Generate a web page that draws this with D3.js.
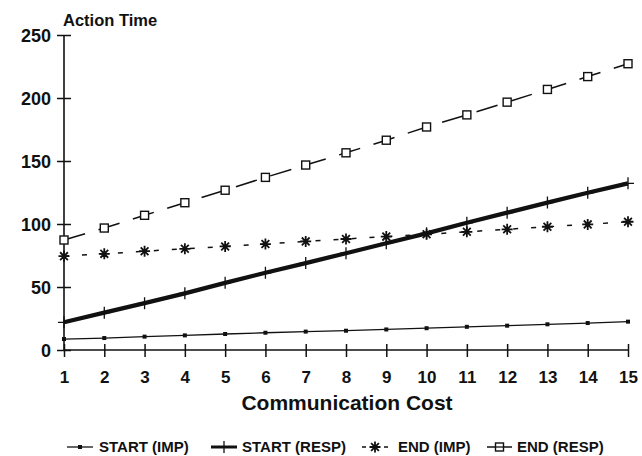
<!DOCTYPE html>
<html>
<head>
<meta charset="utf-8">
<script src="https://cdn.jsdelivr.net/npm/d3@7"></script>
<style>
  body { margin: 0; background: #fff; }
  svg { display: block; }
  text { font-family: "Liberation Sans", Arial, Helvetica, sans-serif; font-weight: bold; fill: #111; }
</style>
</head>
<body>
<div id="chart"></div>
<script>
// chart values
const costs = [1, 2, 3, 4, 5, 6, 7, 8, 9, 10, 11, 12, 13, 14, 15];
const startImp = [8.7, 9.5, 10.6, 11.6, 12.7, 13.7, 14.6, 15.3, 16.3, 17.3, 18.4, 19.3, 20.4, 21.4, 22.5];
const startResp = [22, 29.6, 37.2, 45, 53.3, 61.3, 69, 76.8, 84.7, 92.6, 101, 109, 117, 124.8, 132.3];
const endImp = [74.5, 76.3, 78.4, 80.3, 82.2, 84.1, 86.2, 88.1, 90, 91.8, 93.8, 95.8, 97.8, 99.7, 101.8];
const endResp = [87.3, 96.8, 106.9, 116.9, 126.8, 137, 146.8, 156.5, 166.5, 177, 186.6, 196.7, 206.8, 217, 227.2];
const yTicks = [0, 50, 100, 150, 200, 250];
const seriesNames = ["START (IMP)", "START (RESP)", "END (IMP)", "END (RESP)"];

const width = 642, height = 456;
const ink = "#111";

const series = [
  {name: seriesNames[0], values: startImp, width: 1.3, dash: null, marker: "dot"},
  {name: seriesNames[1], values: startResp, width: 4.3, dash: null, marker: "plus"},
  {name: seriesNames[2], values: endImp, width: 1.5, dash: "5,13", marker: "star"},
  {name: seriesNames[3], values: endResp, width: 1.5, dash: "22,14", marker: "square"}
];

const x = d3.scaleLinear().domain([1, 15]).range([64, 628]);
const y = d3.scaleLinear().domain([0, 250]).range([350, 35]);

const svg = d3.select("#chart").append("svg")
  .attr("width", width)
  .attr("height", height);

// axes
const yAxis = svg.append("g")
  .attr("transform", `translate(${x(1)},0)`)
  .call(d3.axisLeft(y).tickValues(yTicks).tickSize(7).tickPadding(6));
yAxis.select(".domain").attr("stroke", ink).attr("stroke-width", 1.6).attr("d", `M0,${y(250)}V${y(0)}`);
yAxis.selectAll(".tick line").attr("x1", -7).attr("x2", 7).attr("stroke", ink).attr("stroke-width", 1.5);
yAxis.selectAll(".tick text").style("font-size", "18px").attr("x", -13).attr("dy", "0.36em");

const xAxis = svg.append("g")
  .attr("transform", `translate(0,${y(0)})`)
  .call(d3.axisBottom(x).tickValues(costs).tickSize(6).tickPadding(10));
xAxis.select(".domain").attr("stroke", ink).attr("stroke-width", 1.6).attr("d", `M${x(1)},0H${x(15)}`);
xAxis.selectAll(".tick line").attr("y1", -6).attr("y2", 7).attr("stroke", ink).attr("stroke-width", 1.5);
xAxis.selectAll(".tick text").style("font-size", "17px").attr("y", 27).attr("dy", "0.36em");

// titles
svg.append("text").attr("x", 63).attr("y", 26).style("font-size", "16.5px").text("Action Time");
svg.append("text").attr("x", 347).attr("y", 410).attr("text-anchor", "middle")
  .style("font-size", "21px").text("Communication Cost");

// marker drawing
function drawMarker(g, type, cx, cy) {
  if (type === "dot") {
    g.append("rect").attr("x", cx - 2).attr("y", cy - 2).attr("width", 4).attr("height", 4).attr("fill", ink);
  } else if (type === "plus") {
    g.append("path").attr("d", `M${cx},${cy - 6}V${cy + 6}M${cx - 6},${cy}H${cx + 6}`)
      .attr("stroke", ink).attr("stroke-width", 1.3).attr("fill", "none");
  } else if (type === "star") {
    const r = 5.5;
    let d = "";
    [0, 45, 90, 135].forEach(a => {
      const rad = a * Math.PI / 180;
      const dx = r * Math.cos(rad), dy = r * Math.sin(rad);
      d += `M${cx - dx},${cy - dy}L${cx + dx},${cy + dy}`;
    });
    g.append("path").attr("d", d).attr("stroke", ink).attr("stroke-width", 1.8).attr("fill", "none");
  } else if (type === "square") {
    g.append("rect").attr("x", cx - 4).attr("y", cy - 4).attr("width", 8).attr("height", 8)
      .attr("fill", "#fff").attr("stroke", ink).attr("stroke-width", 1.4);
  }
}

// series
const line = d3.line().x((d, i) => x(costs[i])).y(d => y(d));
series.forEach(s => {
  const g = svg.append("g");
  g.append("path")
    .attr("d", line(s.values))
    .attr("fill", "none")
    .attr("stroke", ink)
    .attr("stroke-width", s.width)
    .attr("stroke-dasharray", s.dash);
  s.values.forEach((v, i) => drawMarker(g, s.marker, x(costs[i]), y(v)));
});

// legend
const legendY = 447;
const legendPos = [
  {x0: 67, x1: 93, tx: 99},
  {x0: 211, x1: 237, tx: 242},
  {x0: 362, x1: 388, tx: 398},
  {x0: 487, x1: 512, tx: 517}
];
series.forEach((s, i) => {
  const p = legendPos[i];
  const g = svg.append("g");
  const cx = (p.x0 + p.x1) / 2;
  if (s.marker === "star") {
    g.append("path").attr("d", `M${p.x0},${legendY}h4M${p.x1 - 4},${legendY}h4`)
      .attr("stroke", ink).attr("stroke-width", 1.5);
  } else {
    g.append("path").attr("d", `M${p.x0},${legendY}H${p.x1}`)
      .attr("stroke", ink).attr("stroke-width", s.marker === "plus" ? 3 : s.width);
  }
  drawMarker(g, s.marker, cx, legendY);
  if (s.marker === "square") {
    g.append("path").attr("d", `M${cx - 4},${legendY}H${cx + 4}`).attr("stroke", ink).attr("stroke-width", 1.3);
  }
  g.append("text").attr("x", p.tx).attr("y", legendY + 5).style("font-size", "15px").text(s.name);
});
</script>
</body>
</html>
